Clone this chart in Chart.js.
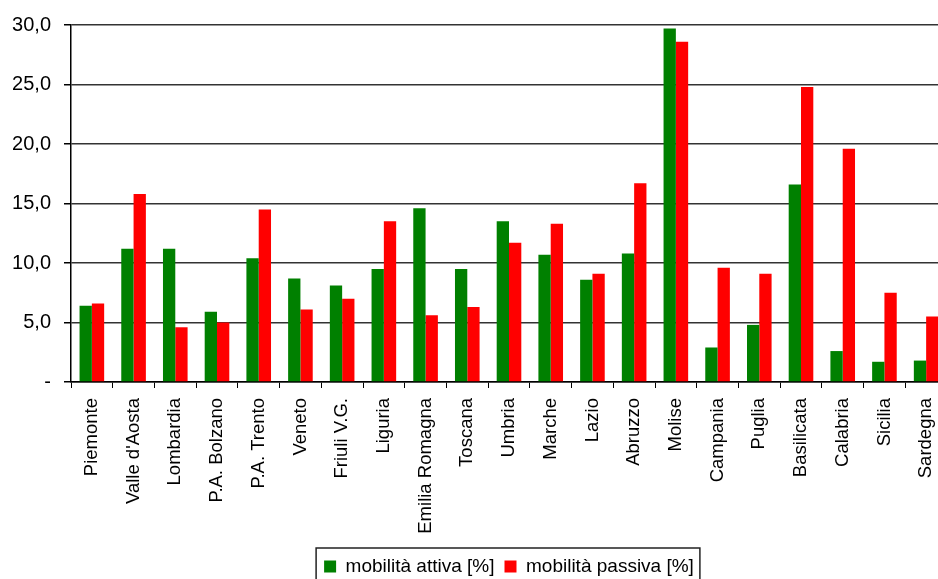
<!DOCTYPE html>
<html lang="it">
<head>
<meta charset="utf-8">
<title>Mobilità attiva e passiva</title>
<script src="https://cdn.jsdelivr.net/npm/chart.js@4.4.1/dist/chart.umd.min.js"></script>
<style>
  html, body { margin: 0; padding: 0; background: #fff; overflow: hidden; }
  #wrap { width: 950px; height: 586px; }
</style>
</head>
<body>
<div id="wrap"><canvas id="grafico" width="950" height="586"></canvas></div>
<script>
// ---------------------------
//   DATI
// ---------------------------
const regioni = [
  "Piemonte", "Valle d'Aosta", "Lombardia", "P.A. Bolzano", "P.A. Trento",
  "Veneto", "Friuli V.G.", "Liguria", "Emilia Romagna", "Toscana", "Umbria",
  "Marche", "Lazio", "Abruzzo", "Molise", "Campania", "Puglia", "Basilicata",
  "Calabria", "Sicilia", "Sardegna"
];

const mobilitaAttiva  = [6.4, 11.2, 11.2, 5.9, 10.4, 8.7, 8.1, 9.5, 14.6, 9.5, 13.5,
                         10.7, 8.6, 10.8, 29.7, 2.9, 4.8, 16.6, 2.6, 1.7, 1.8];
const mobilitaPassiva = [6.6, 15.8, 4.6, 5.0, 14.5, 6.1, 7.0, 13.5, 5.6, 6.3, 11.7,
                         13.3, 9.1, 16.7, 28.6, 9.6, 9.1, 24.8, 19.6, 7.5, 5.5];

const etichetteSerie = ["mobilità attiva [%]", "mobilità passiva [%]"];

// ---------------------------
//   CORNICE DELLA LEGENDA
// ---------------------------
const corniceLegenda = {
  id: "corniceLegenda",
  afterDraw(chart) {
    const boxes = chart.legend && chart.legend.legendHitBoxes;
    if (!boxes || !boxes.length) return;
    const ctx = chart.ctx;
    const left  = Math.min(...boxes.map(b => b.left)) - 8;
    const right = Math.max(...boxes.map(b => b.left + b.width)) + 6;
    const top   = boxes[0].top - 9;
    ctx.save();
    ctx.strokeStyle = "#222";
    ctx.lineWidth = 1.5;
    ctx.strokeRect(left, top, right - left, 50);
    ctx.restore();
  }
};

// ---------------------------
//   GRAFICO
// ---------------------------
const ctx = document.getElementById("grafico").getContext("2d");

new Chart(ctx, {
  type: "bar",
  data: {
    labels: regioni,
    datasets: [
      { label: etichetteSerie[0], data: mobilitaAttiva,  backgroundColor: "#008000", borderWidth: 0 },
      { label: etichetteSerie[1], data: mobilitaPassiva, backgroundColor: "#ff0000", borderWidth: 0 }
    ]
  },
  options: {
    responsive: false,
    animation: false,
    layout: { padding: { top: 23, right: 3, left: 0, bottom: 0 } },
    datasets: { bar: { categoryPercentage: 0.59, barPercentage: 1.0 } },
    plugins: {
      tooltip: { enabled: false },
      legend: {
        position: "bottom",
        fullSize: false,
        labels: {
          color: "#000",
          boxWidth: 12,
          boxHeight: 12,
          padding: 10,
          font: { family: "'Liberation Sans', Arial, sans-serif", size: 19 }
        }
      }
    },
    scales: {
      x: {
        // altezza fissa e niente margini laterali dovuti alle etichette ruotate
        afterFit: (scale) => {
          scale.height = 165;
          scale.paddingLeft = 0;
          scale.paddingRight = 0;
        },
        grid: { drawOnChartArea: false, color: "#000", tickLength: 6, tickColor: "#000" },
        border: { color: "#000", width: 1.5 },
        ticks: {
          color: "#000",
          minRotation: 90,
          maxRotation: 90,
          autoSkip: false,
          padding: 10,
          font: { family: "'Liberation Sans', Arial, sans-serif", size: 18.5 }
        }
      },
      y: {
        min: 0,
        max: 30,
        afterFit: (scale) => { scale.width = 71; },
        grid: { color: "#333", lineWidth: 1.5, tickLength: 7, tickColor: "#000" },
        border: { color: "#000", width: 1.5 },
        ticks: {
          stepSize: 5,
          color: "#000",
          padding: 13,
          font: { family: "'Liberation Sans', Arial, sans-serif", size: 20 },
          callback: (v) => v === 0 ? "-" : v.toFixed(1).replace(".", ",")
        }
      }
    }
  },
  plugins: [corniceLegenda]
});
</script>
</body>
</html>
